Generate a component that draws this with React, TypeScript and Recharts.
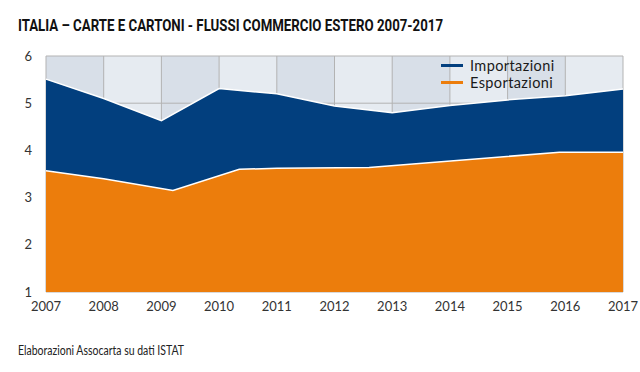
import React from "react";
import { ComposedChart, Area, XAxis, YAxis, CartesianGrid } from "recharts";

const years = [2007, 2008, 2009, 2010, 2011, 2012, 2013, 2014, 2015, 2016, 2017];
const importValues = [5.51, 5.1, 4.63, 5.31, 5.2, 4.94, 4.8, 4.95, 5.07, 5.16, 5.3];

// export line has its kinks between the years
const exportPoints = [2007, 2008, 2009.2, 2010.35, 2011, 2012.6, 2015.9, 2017];
const exportValues = [3.57, 3.4, 3.15, 3.6, 3.62, 3.64, 3.96, 3.96];

const yTicks = [1, 2, 3, 4, 5, 6];

const BLUE = "#023f7e";
const ORANGE = "#ec7d0c";
const FONT = "Lato, 'Noto Sans', sans-serif";

const xs = Array.from(new Set([...years, ...exportPoints])).sort((a, b) => a - b);
const chartData = xs.map((x) => {
  const i = years.indexOf(x);
  const j = exportPoints.indexOf(x);
  return {
    x,
    imp: i >= 0 ? importValues[i] : null,
    exp: j >= 0 ? exportValues[j] : null,
  };
});

const legendItems = [
  { label: "Importazioni", color: BLUE },
  { label: "Esportazioni", color: ORANGE },
];

function LegendBox() {
  return (
    <div
      style={{
        position: "absolute",
        top: 57,
        left: 441,
        fontFamily: FONT,
        fontSize: 14.5,
        letterSpacing: 0.4,
        color: "#1a1a1a",
        lineHeight: "17px",
      }}
    >
      {legendItems.map((it) => (
        <div key={it.label} style={{ display: "flex", alignItems: "center", height: 17 }}>
          <span
            style={{
              display: "inline-block",
              width: 22,
              height: 3,
              background: it.color,
              marginRight: 7,
            }}
          />
          <span>{it.label}</span>
        </div>
      ))}
    </div>
  );
}

export default function App() {
  return (
    <div
      style={{
        position: "absolute",
        top: 0,
        left: 0,
        width: 640,
        height: 372,
        background: "#fff",
        fontFamily: FONT,
      }}
    >
      <svg width={640} height={372} style={{ position: "absolute", top: 0, left: 0 }}>
        <text
          x={18}
          y={31}
          fontFamily="'Liberation Sans Narrow', Roboto, sans-serif"
          fontWeight={700}
          fontSize={16}
          fill="#111"
          textLength={425}
          lengthAdjust="spacingAndGlyphs"
        >
          ITALIA – CARTE E CARTONI - FLUSSI COMMERCIO ESTERO 2007-2017
        </text>
        <text
          x={18}
          y={355}
          fontFamily={FONT}
          fontSize={12.5}
          fill="#222"
          textLength={166}
          lengthAdjust="spacingAndGlyphs"
        >
          Elaborazioni Assocarta su dati ISTAT
        </text>
      </svg>
      <div style={{ position: "absolute", top: 0, left: 0 }}>
        <ComposedChart
          width={640}
          height={372}
          data={chartData}
          margin={{ top: 56, right: 17, left: 0, bottom: 49 }}
        >
          <CartesianGrid
            stroke="#b3b3b3"
            verticalFill={["#d8dfe8", "#e6ebf1"]}
            fillOpacity={1}
          />
          <XAxis
            dataKey="x"
            type="number"
            domain={[2007, 2017]}
            ticks={years}
            interval={0}
            axisLine={false}
            tickLine={false}
            tickSize={0}
            tickMargin={10}
            height={31}
            tick={{ fontSize: 13, fill: "#333", fontFamily: FONT }}
          />
          <YAxis
            type="number"
            domain={[1, 6]}
            ticks={yTicks}
            axisLine={false}
            tickLine={false}
            tickSize={0}
            tickMargin={14}
            width={46}
            tick={{ fontSize: 13, fill: "#333", fontFamily: FONT }}
          />
          <Area
            dataKey="imp"
            type="linear"
            connectNulls
            fill={BLUE}
            fillOpacity={1}
            stroke="#fff"
            strokeWidth={1.5}
            isAnimationActive={false}
          />
          <Area
            dataKey="exp"
            type="linear"
            connectNulls
            fill={ORANGE}
            fillOpacity={1}
            stroke="#fff"
            strokeWidth={1.5}
            isAnimationActive={false}
          />
        </ComposedChart>
      </div>
      <LegendBox />
    </div>
  );
}
